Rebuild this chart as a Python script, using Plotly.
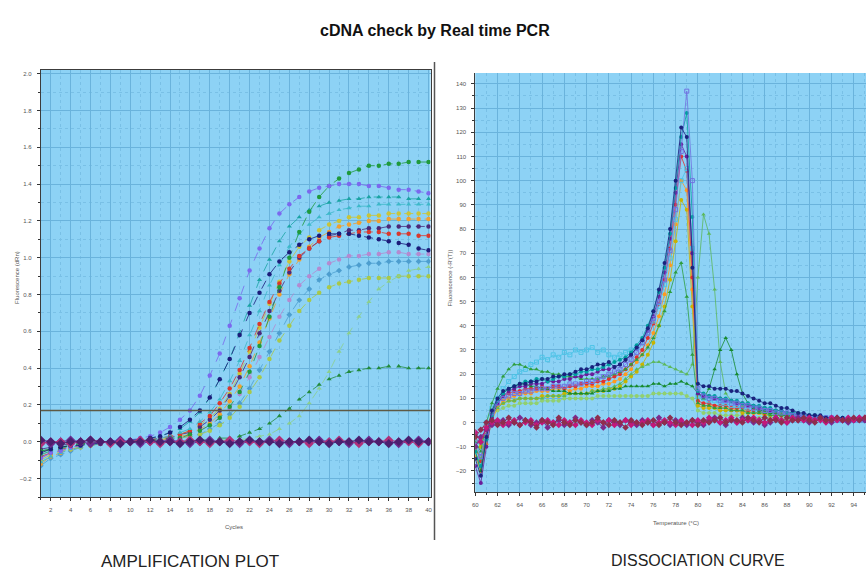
import plotly.graph_objects as go

TITLE = "cDNA check by Real time PCR"
LEFT_CAPTION = "AMPLIFICATION PLOT"
RIGHT_CAPTION = "DISSOCIATION CURVE"
LEFT_XTITLE = "Cycles"
LEFT_YTITLE = "Fluorescence (dRn)"
RIGHT_XTITLE = "Temperature (°C)"
RIGHT_YTITLE = "Fluorescence (-R'(T))"

cycles = list(range(1, 41))
threshold = 0.17

amp_A = [-0.09, -0.06, -0.05, -0.03, -0.02, -0.01, -0.01, 0.00, 0.01, 0.01,
         0.02, 0.03, 0.05, 0.08, 0.12, 0.17, 0.25, 0.36, 0.48, 0.63,
         0.78, 0.93, 1.05, 1.16, 1.24, 1.29, 1.33, 1.36, 1.38, 1.39,
         1.40, 1.40, 1.40, 1.39, 1.39, 1.38, 1.37, 1.37, 1.36, 1.35]
amp_B = [-0.07, -0.05, -0.04, -0.02, -0.02, -0.01, -0.01, 0.00, 0.00, 0.01,
         0.01, 0.02, 0.03, 0.05, 0.07, 0.11, 0.16, 0.24, 0.34, 0.45,
         0.59, 0.74, 0.88, 0.99, 1.09, 1.17, 1.22, 1.26, 1.28, 1.30,
         1.31, 1.32, 1.32, 1.33, 1.33, 1.33, 1.33, 1.32, 1.32, 1.32]
amp_C = [-0.11, -0.08, -0.06, -0.04, -0.03, -0.02, -0.01, -0.01, 0.00, 0.00,
         0.01, 0.01, 0.02, 0.03, 0.05, 0.07, 0.11, 0.16, 0.23, 0.33,
         0.44, 0.58, 0.71, 0.85, 0.96, 1.06, 1.13, 1.18, 1.22, 1.24,
         1.26, 1.27, 1.28, 1.28, 1.29, 1.29, 1.29, 1.29, 1.29, 1.29]
amp_D = [-0.06, -0.04, -0.03, -0.02, -0.02, -0.01, -0.01, 0.00, 0.00, 0.01,
         0.01, 0.02, 0.03, 0.05, 0.08, 0.12, 0.17, 0.24, 0.34, 0.45,
         0.58, 0.70, 0.81, 0.91, 0.98, 1.03, 1.07, 1.10, 1.12, 1.13,
         1.13, 1.13, 1.12, 1.11, 1.10, 1.09, 1.08, 1.07, 1.05, 1.04]
amp_E = [-0.05, -0.04, -0.03, -0.02, -0.01, -0.01, 0.00, 0.00, 0.00, 0.00,
         0.00, 0.01, 0.01, 0.02, 0.02, 0.04, 0.06, 0.09, 0.13, 0.19,
         0.27, 0.38, 0.52, 0.68, 0.84, 1.00, 1.14, 1.25, 1.33, 1.39,
         1.43, 1.46, 1.48, 1.50, 1.50, 1.51, 1.51, 1.52, 1.52, 1.52]
amp_F = [-0.10, -0.07, -0.05, -0.04, -0.03, -0.02, -0.01, -0.01, 0.00, 0.00,
         0.01, 0.01, 0.02, 0.02, 0.04, 0.06, 0.09, 0.13, 0.18, 0.26,
         0.37, 0.49, 0.62, 0.75, 0.87, 0.98, 1.06, 1.11, 1.15, 1.18,
         1.20, 1.22, 1.22, 1.23, 1.23, 1.24, 1.24, 1.24, 1.24, 1.24]
amp_G = [-0.12, -0.08, -0.06, -0.04, -0.03, -0.02, -0.01, -0.01, 0.00, 0.00,
         0.00, 0.01, 0.01, 0.02, 0.03, 0.04, 0.07, 0.10, 0.15, 0.22,
         0.30, 0.41, 0.54, 0.67, 0.80, 0.91, 0.99, 1.06, 1.11, 1.14,
         1.17, 1.18, 1.19, 1.20, 1.20, 1.21, 1.21, 1.21, 1.21, 1.21]
amp_H = [-0.04, -0.03, -0.02, -0.01, -0.01, 0.00, 0.00, 0.00, 0.00, 0.00,
         0.01, 0.01, 0.02, 0.02, 0.04, 0.05, 0.08, 0.12, 0.17, 0.25,
         0.35, 0.46, 0.59, 0.71, 0.82, 0.92, 1.00, 1.05, 1.09, 1.12,
         1.13, 1.15, 1.15, 1.16, 1.16, 1.17, 1.17, 1.17, 1.17, 1.17]
amp_I = [-0.08, -0.06, -0.04, -0.03, -0.02, -0.01, -0.01, 0.00, 0.00, 0.00,
         0.01, 0.01, 0.02, 0.03, 0.04, 0.06, 0.10, 0.14, 0.21, 0.29,
         0.39, 0.51, 0.64, 0.76, 0.86, 0.94, 1.01, 1.05, 1.09, 1.11,
         1.12, 1.13, 1.14, 1.14, 1.14, 1.13, 1.13, 1.13, 1.12, 1.12]
amp_J = [-0.09, -0.06, -0.05, -0.03, -0.02, -0.01, -0.01, 0.00, 0.00, 0.00,
         0.00, 0.01, 0.01, 0.02, 0.02, 0.04, 0.06, 0.09, 0.13, 0.18,
         0.26, 0.35, 0.46, 0.57, 0.68, 0.77, 0.85, 0.90, 0.94, 0.97,
         0.99, 1.01, 1.01, 1.02, 1.02, 1.03, 1.03, 1.02, 1.02, 1.02]
amp_K = [-0.13, -0.09, -0.07, -0.05, -0.03, -0.02, -0.01, -0.01, 0.00, 0.00,
         0.00, 0.01, 0.01, 0.01, 0.02, 0.03, 0.04, 0.07, 0.10, 0.15,
         0.21, 0.29, 0.39, 0.49, 0.59, 0.69, 0.77, 0.83, 0.88, 0.91,
         0.93, 0.95, 0.96, 0.97, 0.97, 0.98, 0.98, 0.98, 0.98, 0.98]
amp_L = [-0.07, -0.05, -0.04, -0.02, -0.02, -0.01, -0.01, 0.00, 0.00, 0.00,
         0.00, 0.00, 0.01, 0.01, 0.02, 0.03, 0.04, 0.06, 0.09, 0.13,
         0.19, 0.27, 0.35, 0.45, 0.55, 0.63, 0.71, 0.77, 0.81, 0.84,
         0.86, 0.87, 0.88, 0.89, 0.89, 0.89, 0.90, 0.90, 0.90, 0.90]
amp_M = [-0.06, -0.04, -0.03, -0.02, -0.02, -0.01, -0.01, 0.00, 0.00, 0.00,
         0.00, 0.00, 0.00, 0.00, 0.00, 0.00, 0.00, 0.00, 0.01, 0.01,
         0.01, 0.02, 0.03, 0.04, 0.07, 0.10, 0.14, 0.21, 0.29, 0.38,
         0.49, 0.59, 0.68, 0.76, 0.83, 0.87, 0.90, 0.93, 0.94, 0.95]
amp_N = [-0.05, -0.04, -0.03, -0.02, -0.01, -0.01, 0.00, 0.00, 0.00, 0.00,
         0.00, 0.00, 0.00, 0.00, 0.00, 0.00, 0.01, 0.01, 0.02, 0.02,
         0.03, 0.05, 0.07, 0.10, 0.14, 0.18, 0.23, 0.27, 0.31, 0.34,
         0.36, 0.38, 0.39, 0.40, 0.40, 0.41, 0.41, 0.40, 0.40, 0.40]
amp_neg1 = [0.00, -0.01, 0.00, 0.01, 0.00, -0.01, 0.00, 0.00, 0.01, 0.00,
            -0.01, 0.00, 0.00, 0.01, 0.00, -0.01, 0.00, 0.01, 0.00, 0.00,
            -0.01, 0.00, 0.00, 0.01, 0.00, -0.01, 0.00, 0.00, 0.01, 0.00,
            0.00, -0.01, 0.00, 0.01, 0.00, 0.00, -0.01, 0.00, 0.01, 0.00]
amp_neg2 = [-0.01, 0.00, 0.00, -0.01, 0.00, 0.01, 0.00, -0.01, 0.00, 0.00,
            0.01, 0.00, -0.01, 0.00, 0.00, 0.01, 0.00, -0.01, 0.00, 0.01,
            0.00, 0.00, -0.01, 0.00, 0.01, 0.00, 0.00, -0.01, 0.00, 0.00,
            0.01, 0.00, -0.01, 0.00, 0.00, 0.01, 0.00, 0.00, -0.01, 0.00]
amp_neg3 = [0.01, 0.00, -0.01, 0.00, 0.00, 0.01, 0.00, 0.00, -0.01, 0.00,
            0.00, 0.01, 0.00, 0.00, -0.01, 0.00, 0.01, 0.00, 0.00, -0.01,
            0.00, 0.01, 0.00, 0.00, -0.01, 0.00, 0.00, 0.01, 0.00, -0.01,
            0.00, 0.00, 0.01, 0.00, 0.00, -0.01, 0.00, 0.01, 0.00, 0.00]

temps = [60 + 0.5 * i for i in range(71)]

melt_navy = [-15, -22, -6, 5, 10, 13, 14, 15, 16, 16,
             17, 17, 18, 18, 19, 19, 20, 20, 21, 22,
             22, 23, 24, 24, 25, 23, 24, 26, 28, 31,
             34, 39, 46, 55, 66, 80, 100, 122, 118, 64,
             16, 15, 15, 14, 14, 14, 13, 13, 12, 11,
             10, 9, 8, 8, 7, 6, 6, 5, 4, 4,
             3, 3, 3, 2, 2, 2, 2, 1, 1, 1,
             1]
melt_lav = [-8, -14, -4, 4, 8, 10, 11, 12, 12, 13,
            13, 14, 14, 14, 15, 15, 15, 16, 16, 16,
            17, 17, 18, 19, 20, 21, 22, 24, 26, 29,
            33, 37, 43, 50, 59, 71, 88, 112, 137, 100,
            14, 11, 10, 10, 9, 9, 8, 8, 7, 7,
            6, 6, 5, 5, 4, 4, 4, 3, 3, 3,
            2, 2, 2, 2, 2, 1, 1, 1, 1, 1,
            1]
melt_teal = [-12, -18, -7, 3, 9, 12, 14, 15, 16, 17,
             17, 18, 18, 17, 18, 19, 19, 20, 20, 21,
             21, 22, 22, 23, 24, 25, 26, 27, 29, 32,
             35, 40, 46, 54, 64, 78, 97, 118, 128, 85,
             13, 12, 11, 11, 10, 10, 9, 9, 8, 8,
             7, 7, 6, 6, 5, 5, 4, 4, 4, 3,
             3, 3, 2, 2, 2, 2, 2, 1, 1, 1,
             1]
melt_red = [-10, -16, -5, 4, 8, 11, 12, 13, 13, 14,
            14, 14, 15, 14, 15, 15, 14, 15, 15, 16,
            16, 16, 17, 17, 18, 19, 20, 22, 24, 27,
            30, 35, 41, 49, 59, 72, 90, 110, 104, 60,
            9, 8, 8, 7, 7, 7, 6, 6, 6, 5,
            5, 5, 4, 4, 4, 3, 3, 3, 3, 2,
            2, 2, 2, 2, 1, 1, 1, 1, 1, 1,
            1]
melt_orange = [-14, -20, -9, 1, 6, 9, 10, 11, 12, 12,
               12, 13, 13, 13, 14, 14, 14, 13, 14, 14,
               15, 15, 15, 16, 16, 17, 18, 20, 22, 25,
               28, 32, 37, 44, 53, 65, 82, 100, 96, 55,
               8, 7, 7, 7, 6, 6, 6, 5, 5, 5,
               4, 4, 4, 4, 3, 3, 3, 3, 2, 2,
               2, 2, 2, 2, 1, 1, 1, 1, 1, 1,
               1]
melt_olive = [-6, -10, -2, 4, 7, 8, 9, 9, 10, 10,
              10, 10, 11, 11, 11, 11, 12, 12, 12, 12,
              12, 13, 13, 13, 14, 14, 15, 17, 19, 21,
              24, 28, 33, 40, 48, 59, 75, 92, 88, 48,
              7, 6, 6, 6, 5, 5, 5, 5, 4, 4,
              4, 4, 3, 3, 3, 3, 3, 2, 2, 2,
              2, 2, 2, 1, 1, 1, 1, 1, 1, 1,
              1]
melt_purple = [-18, -25, -10, 2, 8, 11, 13, 14, 15, 15,
               16, 16, 16, 17, 17, 17, 18, 18, 19, 19,
               20, 20, 21, 22, 22, 23, 24, 26, 28, 31,
               34, 38, 44, 52, 62, 76, 95, 115, 110, 70,
               12, 11, 11, 10, 10, 9, 9, 8, 8, 7,
               7, 6, 6, 5, 5, 5, 4, 4, 3, 3,
               3, 3, 2, 2, 2, 2, 1, 1, 1, 1,
               1]
melt_green = [-8, -12, 0, 8, 14, 19, 22, 24, 24, 23,
              22, 22, 21, 21, 20, 20, 19, 19, 19, 18,
              18, 18, 18, 19, 19, 20, 21, 22, 24, 26,
              28, 31, 35, 40, 46, 54, 62, 66, 52, 28,
              8, 7, 7, 6, 6, 6, 5, 5, 5, 4,
              4, 4, 4, 3, 3, 3, 3, 2, 2, 2,
              2, 2, 2, 1, 1, 1, 1, 1, 1, 1,
              1]
melt_cyan = [-5, -8, 0, 6, 10, 14, 17, 19, 21, 22,
             24, 25, 27, 26, 28, 27, 29, 28, 30, 29,
             30, 31, 29, 30, 28, 27, 28, 29, 30, 31,
             33, 37, 42, 48, 57, 68, 84, 100, 105, 72,
             11, 10, 9, 9, 8, 8, 7, 7, 6, 6,
             5, 5, 5, 4, 4, 4, 3, 3, 3, 2,
             2, 2, 2, 2, 1, 1, 1, 1, 1, 1,
             1]
melt_second = [-10, -15, -5, 3, 6, 8, 9, 9, 10, 10,
               10, 10, 10, 11, 11, 11, 11, 12, 12, 12,
               12, 13, 13, 14, 14, 15, 16, 18, 20, 22,
               23, 24, 25, 25, 24, 23, 22, 21, 20, 24,
               60, 86, 78, 55, 25, 12, 9, 8, 7, 7,
               6, 6, 5, 5, 4, 4, 4, 3, 3, 3,
               2, 2, 2, 2, 2, 1, 1, 1, 1, 1,
               1]
melt_dimer = [-12, -20, -6, 4, 9, 12, 14, 15, 16, 16,
              15, 15, 14, 14, 13, 13, 13, 12, 12, 12,
              12, 12, 13, 13, 13, 14, 14, 15, 15, 15,
              15, 15, 16, 16, 15, 16, 16, 17, 16, 15,
              12, 10, 14, 22, 30, 35, 30, 20, 12, 8,
              6, 5, 5, 4, 4, 3, 3, 3, 2, 2,
              2, 2, 2, 2, 1, 1, 1, 1, 1, 1,
              1]
melt_light = [-6, -10, -2, 3, 5, 6, 7, 7, 8, 8,
              8, 8, 9, 9, 9, 9, 10, 10, 10, 10,
              10, 10, 11, 11, 11, 11, 11, 11, 11, 11,
              11, 11, 12, 12, 12, 12, 12, 12, 11, 10,
              5, 4, 4, 4, 3, 3, 3, 3, 3, 2,
              2, 2, 2, 2, 2, 2, 1, 1, 1, 1,
              1, 1, 1, 1, 1, 1, 1, 1, 1, 1,
              1]
melt_neg1 = [-10, -6, -3, -1, 0, 1, -1, 0, 2, 1,
             -1, 0, 1, -2, 0, 1, -1, 0, 2, 0,
             -1, 1, 0, -2, 1, 0, -1, 1, 0, -1,
             1, 0, -1, 2, 0, -1, 1, 0, -1, 1,
             0, -1, 1, 2, 0, -1, 1, 0, 2, 1,
             0, 1, -1, 0, 2, 1, 0, 1, 2, 1,
             0, 1, 2, 1, 0, 2, 1, 0, 1, 2,
             1]
melt_neg2 = [-4, -8, -2, 0, 1, -1, 0, 1, -1, 0,
             1, -1, 0, 1, 0, -1, 1, 0, -1, 1,
             0, -1, 1, 0, 1, -1, 0, 1, -1, 0,
             0, 1, -1, 0, 1, 0, -1, 1, 0, -1,
             1, 0, 2, 1, 0, 1, 2, 0, 1, 1,
             2, 1, 0, 1, 2, 1, 0, 2, 1, 1,
             2, 1, 1, 0, 2, 1, 1, 2, 1, 2,
             2]
melt_neg3 = [-6, -3, 0, 1, -1, 0, 2, 0, -1, 1,
             0, -2, 1, 0, -1, 2, 0, -1, 1, 0,
             -1, 0, 2, 0, -1, 1, 0, -2, 1, 0,
             -1, 0, 1, -1, 0, 2, 0, -1, 0, 1,
             -1, 1, 0, 1, 2, 0, 1, 1, 0, 2,
             1, 0, 2, 1, 1, 0, 2, 1, 1, 2,
             1, 0, 2, 1, 1, 2, 1, 1, 2, 1,
             2]

# ---- styles (kept separate from data) ----
amp_styles = [
    (amp_K, "#4d9ecf", "diamond"),
    (amp_L, "#a8c84a", "circle"),
    (amp_J, "#b48ad0", "circle"),
    (amp_M, "#8ccf8c", "triangle-up"),
    (amp_N, "#228b3c", "triangle-up"),
    (amp_G, "#f0a030", "circle"),
    (amp_F, "#c9c43a", "circle"),
    (amp_H, "#4b2a7a", "circle"),
    (amp_I, "#d9382e", "circle"),
    (amp_C, "#3cb8c8", "triangle-up"),
    (amp_B, "#1aa3a3", "triangle-up"),
    (amp_E, "#1f9a3c", "circle"),
    (amp_A, "#7b68ee", "circle"),
    (amp_D, "#1c1c7a", "circle"),
]
amp_neg_styles = [
    (amp_neg1, "#6a2c91"),
    (amp_neg2, "#b0307a"),
    (amp_neg3, "#4b1f6f"),
]
melt_styles = [
    (melt_light, "#90d070", "circle"),
    (melt_olive, "#c8b400", "circle"),
    (melt_orange, "#ff9a1f", "circle"),
    (melt_red, "#e03030", "circle"),
    (melt_cyan, "#4cc3e6", "square-open"),
    (melt_second, "#5cb85c", "triangle-up"),
    (melt_dimer, "#168a2e", "triangle-up"),
    (melt_green, "#2e9e3e", "triangle-up"),
    (melt_purple, "#6a1b9a", "circle"),
    (melt_teal, "#00a0a0", "circle"),
    (melt_lav, "#7070e0", "square-open"),
    (melt_navy, "#1a237e", "circle"),
]
melt_neg_styles = [
    (melt_neg1, "#7b2a8c"),
    (melt_neg2, "#c2187a"),
    (melt_neg3, "#8e2d4e"),
]

fig = go.Figure()

for vals, col, sym in amp_styles:
    fig.add_trace(go.Scatter(
        x=cycles, y=vals, mode="lines+markers", xaxis="x", yaxis="y",
        line=dict(color=col, width=0.8, dash="dash"),
        marker=dict(color=col, size=4.5, symbol=sym), showlegend=False))
for vals, col in amp_neg_styles:
    fig.add_trace(go.Scatter(
        x=cycles, y=vals, mode="lines+markers", xaxis="x", yaxis="y",
        line=dict(color=col, width=1),
        marker=dict(color=col, size=7, symbol="diamond"), showlegend=False))

for vals, col, sym in melt_styles:
    fig.add_trace(go.Scatter(
        x=temps, y=vals, mode="lines+markers", xaxis="x2", yaxis="y2",
        line=dict(color=col, width=0.8),
        marker=dict(color=col, size=4, symbol=sym), showlegend=False))
for vals, col in melt_neg_styles:
    fig.add_trace(go.Scatter(
        x=temps, y=vals, mode="lines+markers", xaxis="x2", yaxis="y2",
        line=dict(color=col, width=1),
        marker=dict(color=col, size=5, symbol="diamond"), showlegend=False))

W, H = 868, 572


def px(x):
    return x / W


def py(y):
    return 1 - y / H


tickfont = dict(size=6, color="#555555", family="Liberation Sans")
grid_major = "#6ab3dc"
grid_minor = "#79c0e6"


def axis(**kw):
    base = dict(
        showline=True, linecolor="#3c3c3c", linewidth=1,
        ticks="outside", ticklen=3, tickcolor="#333333", tickwidth=1,
        tickfont=tickfont, showgrid=True, gridcolor=grid_major, gridwidth=1,
        zeroline=False, ticklabelstandoff=4,
    )
    base.update(kw)
    return base


fig.update_layout(
    width=W, height=H, margin=dict(l=0, r=0, t=0, b=0),
    paper_bgcolor="white", plot_bgcolor="#8dd2f5",
    font=dict(family="Liberation Sans"),
    xaxis=axis(domain=[px(38), px(430)], range=[1, 40.2], dtick=2, tick0=0,
               mirror=True, anchor="y",
               minor=dict(dtick=1, showgrid=True, gridcolor=grid_minor,
                          griddash="dot", ticks="outside", ticklen=2,
                          tickcolor="#333333")),
    yaxis=axis(domain=[py(497), py(70)], range=[-0.3, 2.02], dtick=0.2,
               tick0=0, tickformat=".1f", mirror=True, anchor="x",
               minor=dict(dtick=0.1, showgrid=True, gridcolor=grid_minor,
                          griddash="dot", ticks="outside", ticklen=2,
                          tickcolor="#333333")),
    xaxis2=axis(domain=[px(475), 1.0], range=[60, 95.1], dtick=2, tick0=60,
                anchor="y2",
                minor=dict(dtick=1, showgrid=True, gridcolor=grid_minor,
                           griddash="dot", ticks="outside", ticklen=2,
                           tickcolor="#333333")),
    yaxis2=axis(domain=[py(492), py(73)], range=[-28.7, 144.5], dtick=10,
                tick0=0, anchor="x2",
                minor=dict(dtick=5, showgrid=True, gridcolor=grid_minor,
                           griddash="dot", ticks="outside", ticklen=2,
                           tickcolor="#333333")),
)

# threshold line
fig.add_shape(type="line", xref="x domain", yref="y", x0=0, x1=1,
              y0=threshold, y1=threshold,
              line=dict(color="#5e5a45", width=1.5))

# separator between the two panels
fig.add_shape(type="line", xref="paper", yref="paper",
              x0=px(434), x1=px(434), y0=py(540), y1=py(62),
              line=dict(color="#555555", width=1.5))

ann = [
    dict(text="<b>" + TITLE + "</b>", x=0.5, y=py(30),
         font=dict(size=16, color="#111111", family="Liberation Sans")),
    dict(text=LEFT_CAPTION, x=px(188), y=py(561),
         font=dict(size=17, color="#222222", family="Liberation Sans")),
    dict(text=RIGHT_CAPTION, x=px(699), y=py(560),
         font=dict(size=16, color="#222222", family="Liberation Sans")),
    dict(text=LEFT_XTITLE, x=px(232), y=py(527),
         font=dict(size=6, color="#555555")),
    dict(text=RIGHT_XTITLE, x=px(677), y=py(523),
         font=dict(size=6, color="#555555")),
    dict(text=LEFT_YTITLE, x=px(14), y=py(277), textangle=-90,
         font=dict(size=6, color="#555555")),
    dict(text=RIGHT_YTITLE, x=px(450), y=py(278), textangle=-90,
         font=dict(size=6, color="#555555")),
]
for a in ann:
    fig.add_annotation(xref="paper", yref="paper", showarrow=False,
                       xanchor="center", yanchor="middle", **a)

fig.write_html("out.html")
